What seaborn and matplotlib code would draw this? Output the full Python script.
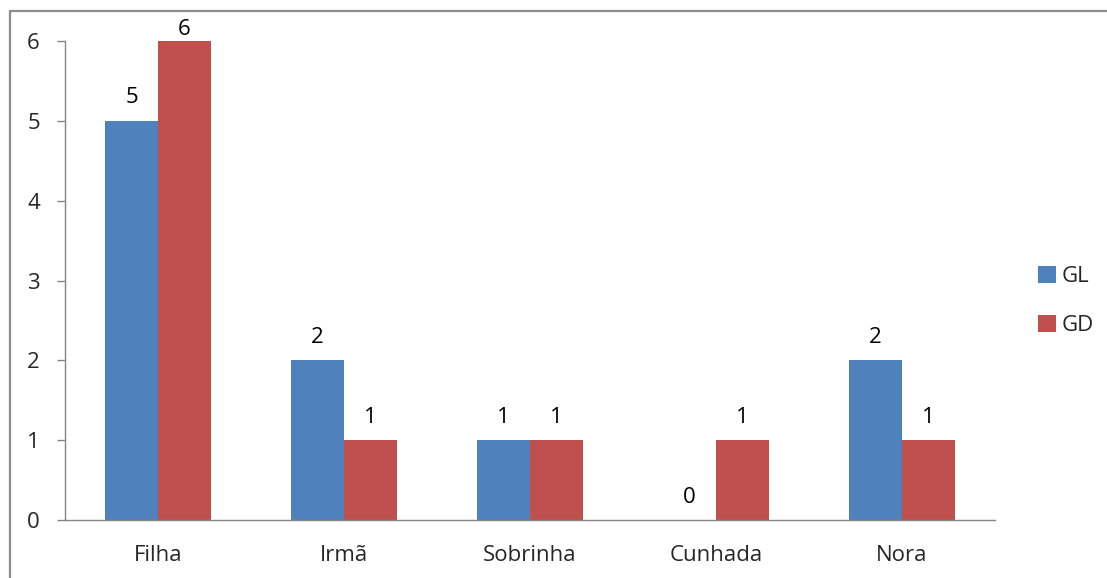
import matplotlib
matplotlib.use("Agg")
import matplotlib.pyplot as plt
from matplotlib.lines import Line2D
import seaborn as sns
import pandas as pd

categories = ["Filha", "Irmã", "Sobrinha", "Cunhada", "Nora"]
gl_values = [5, 2, 1, 0, 2]
gd_values = [6, 1, 1, 1, 1]
series_names = ["GL", "GD"]
y_ticks = [0, 1, 2, 3, 4, 5, 6]

df = pd.DataFrame({
    "categoria": categories * 2,
    "grupo": [series_names[0]] * len(categories) + [series_names[1]] * len(categories),
    "valor": gl_values + gd_values,
})

sns.set_theme(style="white")
plt.rcParams["font.family"] = ["Open Sans", "DejaVu Sans"]

axis_grey = "#868686"
palette = {"GL": "#4F81BD", "GD": "#C0504D"}
fs = 16

fig = plt.figure(figsize=(11.07, 5.78), dpi=100)
ax = fig.add_axes([0.0587, 0.1003, 0.8401, 0.8287])

sns.barplot(data=df, x="categoria", y="valor", hue="grupo", order=categories,
            hue_order=series_names, palette=palette, width=0.57, gap=0,
            saturation=1, linewidth=0, ax=ax)

y_max = max(y_ticks)
for container in ax.containers:
    anns = ax.bar_label(container, labels=[f"{v:g}" for v in container.datavalues],
                        padding=9, fontsize=fs, color="black")
    # labels of bars reaching the top of the axis sit tighter against the bar
    for ann, v in zip(anns, container.datavalues):
        if v >= y_max:
            ann.xyann = (0, 1)

ax.set_xlim(-0.5, len(categories) - 0.5)
ax.set_ylim(0, y_max)
ax.set_yticks(y_ticks)
ax.set_yticklabels([str(t) for t in y_ticks], fontsize=fs)
ax.set_xlabel("")
ax.set_ylabel("")
ax.tick_params(axis="x", which="major", length=0, pad=18, labelsize=fs)
ax.set_xticks([i - 0.5 for i in range(len(categories) + 1)], minor=True)
ax.tick_params(axis="x", which="minor", length=8, width=1, color=axis_grey, direction="out")
ax.tick_params(axis="y", length=6, width=1, color=axis_grey, direction="out", pad=12,
               left=True)

for side in ["top", "right"]:
    ax.spines[side].set_visible(False)
for side in ["left", "bottom"]:
    ax.spines[side].set_color(axis_grey)
    ax.spines[side].set_linewidth(1)

handles, labels = ax.get_legend_handles_labels()
ax.legend(handles, labels, loc="center left", bbox_to_anchor=(0.92, 0.479),
          bbox_transform=fig.transFigure, frameon=False, fontsize=fs,
          handlelength=0.8, handleheight=0.8, handletextpad=0.25, labelspacing=1.25)

# outer chart-area border (left and top edges)
fig.add_artist(Line2D([10 / 1107, 10 / 1107], [0, 1 - 11 / 578],
                      transform=fig.transFigure, color="#8c8c8c", linewidth=1.6))
fig.add_artist(Line2D([10 / 1107, 1], [1 - 11 / 578, 1 - 11 / 578],
                      transform=fig.transFigure, color="#8c8c8c", linewidth=1.6))

fig.savefig("out.png", dpi=100)
